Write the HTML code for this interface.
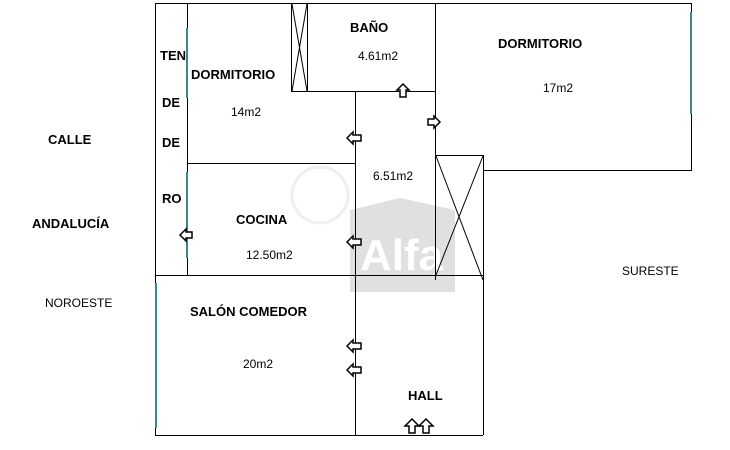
<!DOCTYPE html>
<html><head><style>
body{margin:0;background:#fff;}
svg{display:block;}
text{font-family:"Liberation Sans",Arial,sans-serif;font-size:12px;fill:#000;}
.b{font-weight:bold;font-size:13px;}
</style></head><body>
<svg width="730" height="450" viewBox="0 0 730 450" xmlns="http://www.w3.org/2000/svg">
<!-- watermark -->
<g opacity="0.22">
<polygon points="350,210 400,198 455,210 455,292 350,292" fill="#777"/>
<text x="360" y="270" style="font-size:44px;font-weight:bold;fill:#fff">Alfa</text>
<circle cx="320" cy="195" r="28" fill="none" stroke="#bbb" stroke-width="3"/>
</g>
<g stroke="#000" stroke-width="1" fill="none" shape-rendering="crispEdges">
<polyline points="155.5,435.5 155.5,3.5 691.5,3.5 691.5,170.5 483.5,170.5"/>
<line x1="187.5" y1="3" x2="187.5" y2="275"/>
<line x1="187" y1="163.5" x2="355" y2="163.5"/>
<line x1="155" y1="275.5" x2="483" y2="275.5"/>
<line x1="155" y1="435.5" x2="483" y2="435.5"/>
<line x1="483.5" y1="155" x2="483.5" y2="435"/>
<line x1="355.5" y1="91" x2="355.5" y2="435"/>
<line x1="291" y1="91.5" x2="435" y2="91.5"/>
<line x1="291.5" y1="3" x2="291.5" y2="91"/>
<line x1="307.5" y1="3" x2="307.5" y2="91"/>
<line x1="435.5" y1="3" x2="435.5" y2="280"/>
<line x1="435" y1="155.5" x2="483" y2="155.5"/>
</g>
<g stroke="#000" stroke-width="1">
<line x1="292" y1="4" x2="307" y2="91"/><line x1="307" y1="4" x2="292" y2="91"/>
<line x1="436" y1="156" x2="483" y2="280"/><line x1="483" y1="156" x2="436" y2="275"/>
</g>
<!-- windows -->
<g stroke="#3a8a8a" stroke-width="2">
<line x1="187" y1="28" x2="187" y2="98"/>
<line x1="187" y1="172" x2="187" y2="258"/>
<line x1="156" y1="283" x2="156" y2="428"/>
<line x1="691" y1="12" x2="691" y2="114"/>
</g>
<!-- arrows -->
<g fill="#fff" stroke="#000" stroke-width="1.5">
<polygon points="347,138 353,132 353,135 361,135 361,141 353,141 353,144"/>
<polygon points="347,242 353,236 353,239 361,239 361,245 353,245 353,248"/>
<polygon points="347,346 353,340 353,343 361,343 361,349 353,349 353,352"/>
<polygon points="347,370 353,364 353,367 361,367 361,373 353,373 353,376"/>
<polygon points="180,235 186,229 186,232 192,232 192,238 186,238 186,241"/>
<polygon points="440,122 434,116 434,119 428,119 428,125 434,125 434,128"/>
<polygon points="403,84 397,90 400,90 400,97 406,97 406,90 409,90"/>
<polygon points="412,419 405,426 409,426 409,433 415,433 415,426 419,426"/>
<polygon points="426,419 419,426 423,426 423,433 429,433 429,426 433,426"/>
</g>
<text class="b" x="350" y="32">BAÑO</text>
<text x="358" y="60">4.61m2</text>
<text class="b" x="498" y="48">DORMITORIO</text>
<text x="543" y="92">17m2</text>
<text class="b" x="191" y="79">DORMITORIO</text>
<text x="231" y="116">14m2</text>
<text class="b" x="160" y="60">TEN</text>
<text class="b" x="162" y="107">DE</text>
<text class="b" x="162" y="147">DE</text>
<text class="b" x="162" y="203">RO</text>
<text x="373" y="180">6.51m2</text>
<text class="b" x="236" y="224">COCINA</text>
<text x="246" y="259">12.50m2</text>
<text class="b" x="190" y="316">SALÓN COMEDOR</text>
<text x="243" y="368">20m2</text>
<text class="b" x="408" y="400">HALL</text>
<text class="b" x="48" y="144">CALLE</text>
<text class="b" x="32" y="228">ANDALUCÍA</text>
<text x="45" y="307">NOROESTE</text>
<text x="622" y="275">SURESTE</text>
</svg>
</body></html>
